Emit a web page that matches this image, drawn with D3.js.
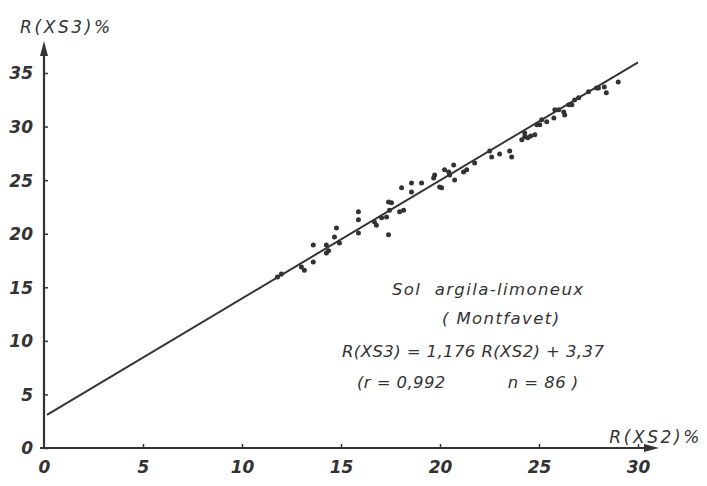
<!DOCTYPE html>
<html><head><meta charset="utf-8">
<script src="https://cdn.jsdelivr.net/npm/d3@7"></script>
<style>
html,body{margin:0;padding:0;background:#fff;}
svg text{font-family:"DejaVu Sans",sans-serif;font-style:italic;fill:#333;}
</style></head>
<body><svg id="chart" width="707" height="486"></svg>
<script>
// ---- data ----
const xTicks = [0, 5, 10, 15, 20, 25, 30];
const yTicks = [0, 5, 10, 15, 20, 25, 30, 35];
const xsVals = [11.99,11.79,13.0,13.15,13.6,13.6,14.26,14.26,14.37,14.67,14.77,14.92,15.88,15.88,15.88,16.69,16.79,17.05,17.3,17.4,17.55,17.45,17.96,18.16,17.4,18.06,18.56,18.56,19.07,19.73,19.98,20.44,19.68,20.08,20.23,20.49,20.69,20.74,21.19,21.35,21.75,22.51,22.61,23.01,23.52,23.62,24.13,24.28,24.43,24.58,24.28,24.79,24.89,25.04,25.14,25.39,25.75,25.8,26.0,26.3,26.5,26.66,26.8,27.0,27.5,27.9,28.0,28.3,28.4,29.0,26.25];
const ysVals = [16.25,15.97,16.9,16.6,17.37,18.95,18.2,18.95,18.4,19.7,20.54,19.14,22.04,21.3,20.07,21.1,20.8,21.5,21.57,22.97,22.9,22.2,22.04,22.2,19.9,24.28,24.74,23.9,24.74,25.49,24.37,25.77,25.2,24.28,25.96,25.49,26.42,25.02,25.77,25.96,26.6,27.73,27.17,27.45,27.73,27.17,28.76,29.04,28.95,29.13,29.41,29.23,30.16,30.16,30.63,30.44,30.81,31.56,31.56,31.09,32.03,32.03,32.49,32.68,33.24,33.6,33.6,33.7,33.15,34.17,31.37];
const fitX = [0.15, 30.0];
const fitY = [3.1, 36.0];
const xLabel = "R(XS2)%";
const yLabel = "R(XS3)%";
const noteLines = ["Sol  argila-limoneux", "( Montfavet)", "R(XS3) = 1,176 R(XS2) + 3,37", "(r = 0,992           n = 86 )"];

// ---- drawing ----
const svg = d3.select("#chart");
const ink = "#333";
const x = d3.scaleLinear().domain([0, 30]).range([44, 638]);
const y = d3.scaleLinear().domain([0, 35]).range([448, 73]);

// axes lines with arrows
svg.append("line").attr("x1", 44).attr("y1", 449).attr("x2", 44).attr("y2", 50)
  .attr("stroke", ink).attr("stroke-width", 2.2);
svg.append("path").attr("d", "M44,41 L40,56 L48,56 Z").attr("fill", ink);
svg.append("line").attr("x1", 40).attr("y1", 448).attr("x2", 650).attr("y2", 448)
  .attr("stroke", ink).attr("stroke-width", 2.2);
svg.append("path").attr("d", "M659,448 L644,444 L644,452 Z").attr("fill", ink);

const yAxis = d3.axisLeft(y).tickValues(yTicks).tickSizeInner(-4).tickSizeOuter(0).tickPadding(11);
const gy = svg.append("g").attr("transform", "translate(44,0)").call(yAxis);
gy.select(".domain").remove();
gy.selectAll(".tick line").attr("stroke", ink).attr("stroke-width", 1.5);
gy.selectAll(".tick text").attr("font-size", 17).attr("font-weight", "bold").attr("fill", ink)
  .attr("font-family", null).attr("dy", "0.35em");

const xAxis = d3.axisBottom(x).tickValues(xTicks).tickSizeInner(-4).tickSizeOuter(0).tickPadding(13);
const gx = svg.append("g").attr("transform", "translate(0,448)").call(xAxis);
gx.select(".domain").remove();
gx.selectAll(".tick line").attr("stroke", ink).attr("stroke-width", 1.5);
gx.selectAll(".tick text").attr("font-size", 17).attr("font-weight", "bold").attr("fill", ink)
  .attr("font-family", null);
gx.selectAll(".tick").filter(d => d === 0).select("line").remove();

// axis titles
svg.append("text").attr("x", 20).attr("y", 33).attr("font-size", 17).attr("letter-spacing", 2.6)
  .text(yLabel);
svg.append("text").attr("x", 702).attr("y", 443).attr("text-anchor", "end").attr("font-size", 17)
  .attr("letter-spacing", 2.6).text(xLabel);

// fit line
svg.append("path")
  .datum(fitX.map((v, i) => [v, fitY[i]]))
  .attr("d", d3.line().x(d => x(d[0])).y(d => y(d[1])))
  .attr("fill", "none").attr("stroke", ink).attr("stroke-width", 2);

// points
svg.append("g").selectAll("circle")
  .data(xsVals.map((v, i) => [v, ysVals[i]]))
  .join("circle")
  .attr("cx", d => x(d[0])).attr("cy", d => y(d[1])).attr("r", 2.5).attr("fill", ink);

// annotation
const notePos = [[392, 295, 1.4], [442, 324, 1.4], [342, 357, 0.4], [357, 388, 0.4]];
noteLines.forEach((t, i) => {
  svg.append("text").attr("x", notePos[i][0]).attr("y", notePos[i][1])
    .attr("font-size", 16.5).attr("letter-spacing", notePos[i][2])
    .attr("xml:space", "preserve").style("white-space", "pre").text(t);
});
</script></body></html>
